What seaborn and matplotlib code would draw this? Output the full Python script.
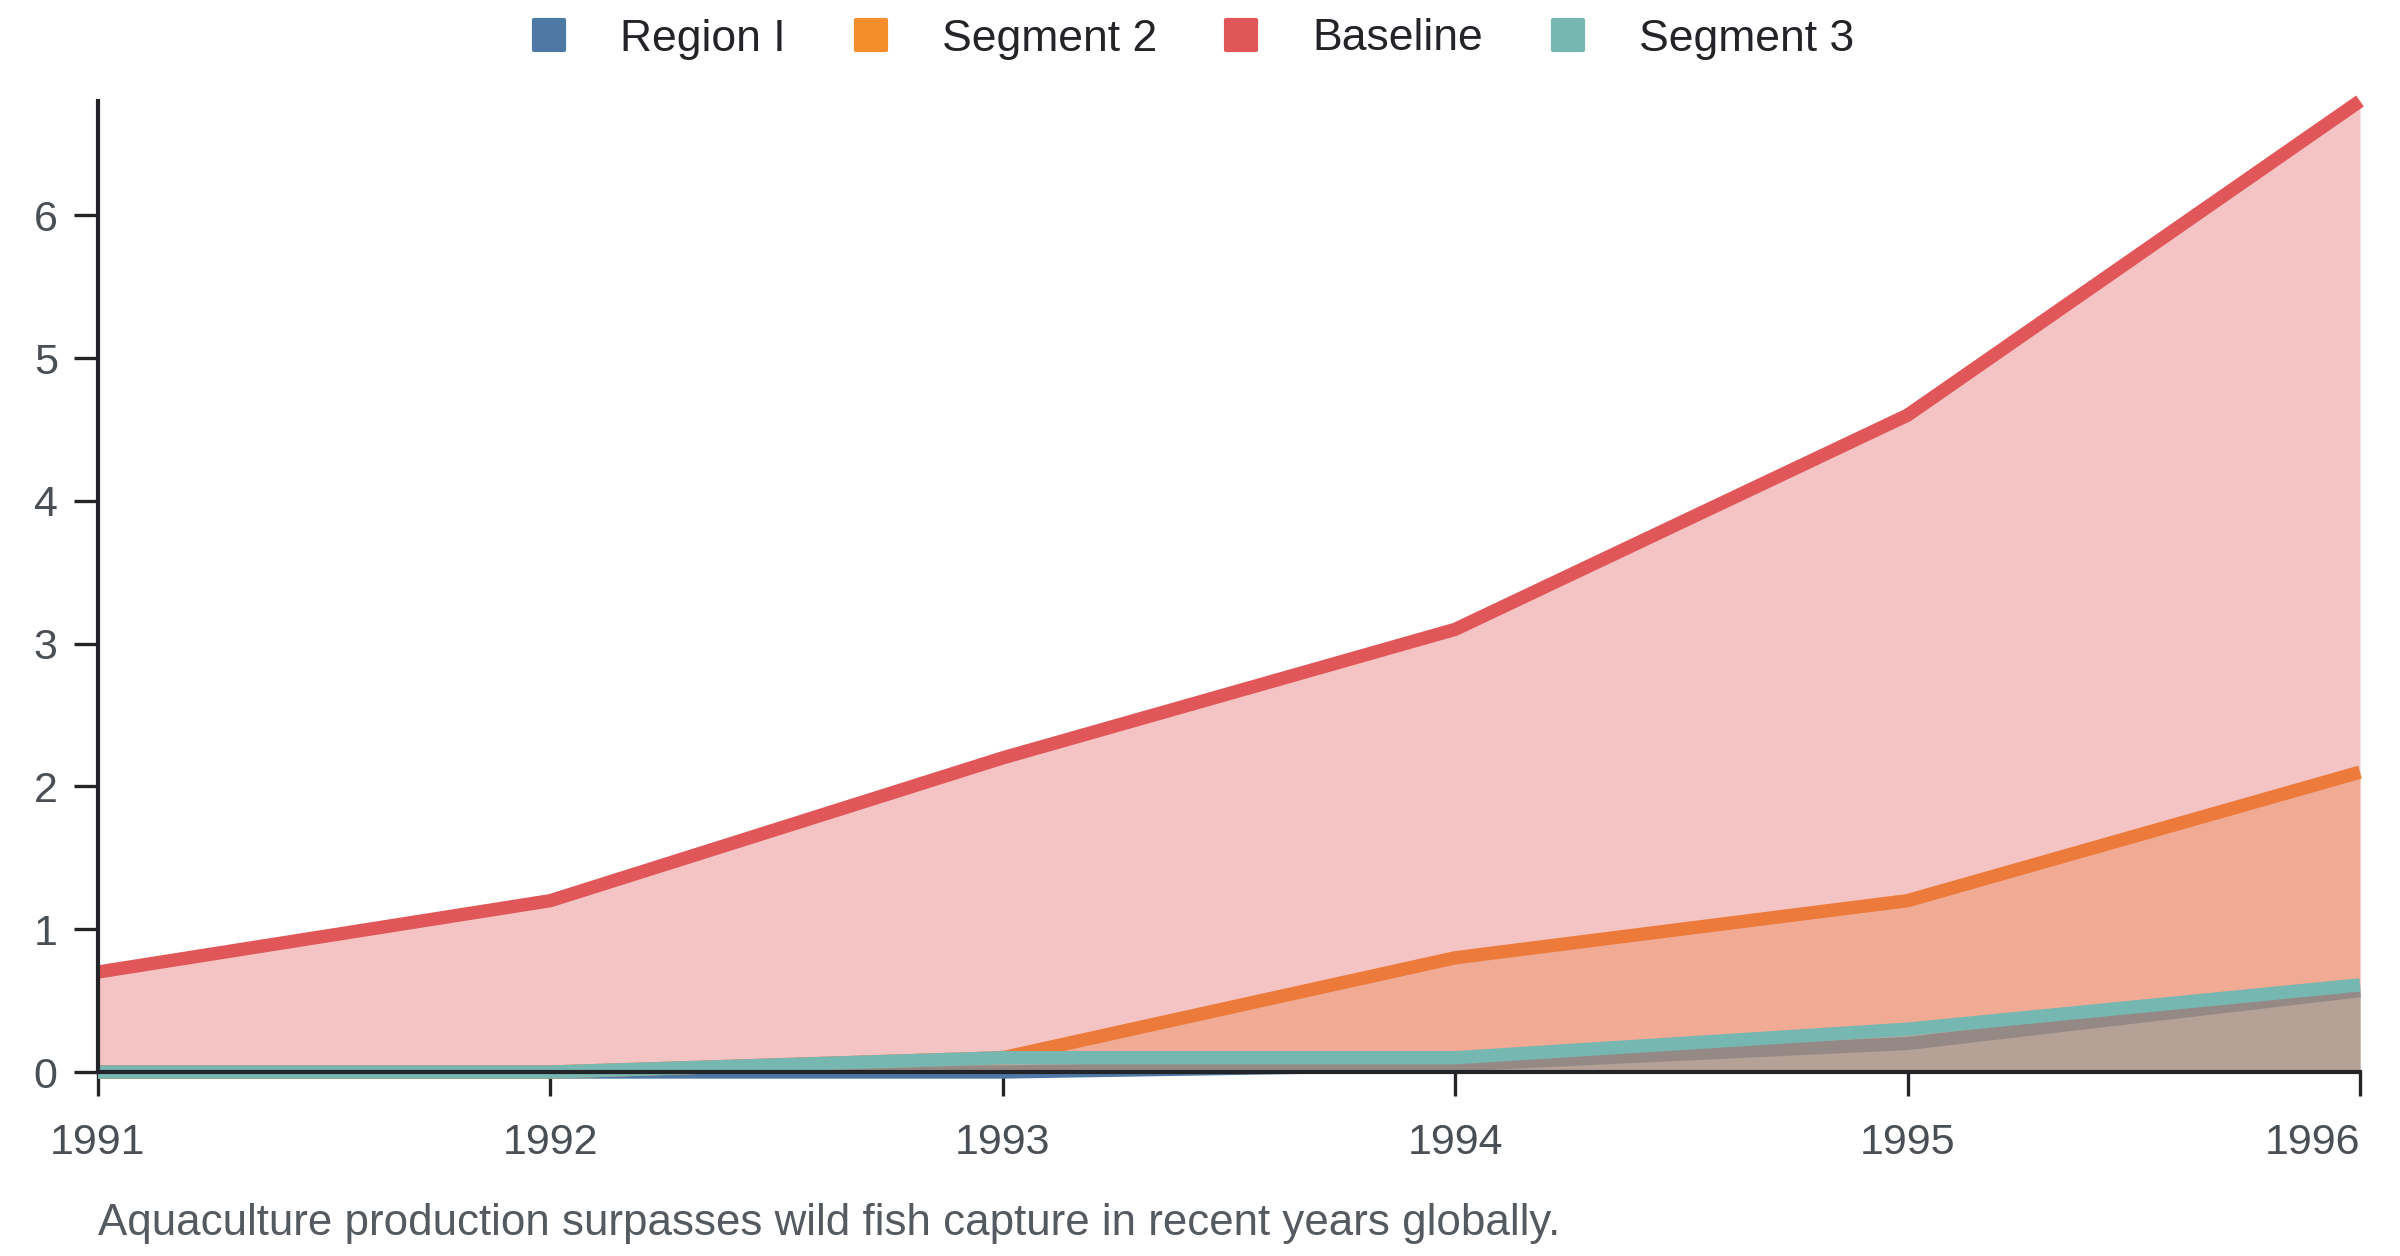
import pandas as pd
import matplotlib
matplotlib.use("Agg")
import matplotlib.pyplot as plt
import seaborn as sns
from matplotlib.lines import Line2D
from matplotlib.markers import MarkerStyle

# Chart data
years = [1991, 1992, 1993, 1994, 1995, 1996]
region_1 = [0.0, 0.0, 0.0, 0.05, 0.2, 0.57]
segment_2 = [0.0, 0.0, 0.1, 0.8, 1.2, 2.1]
baseline = [0.7, 1.2, 2.2, 3.1, 4.6, 6.8]
segment_3 = [0.0, 0.0, 0.1, 0.1, 0.3, 0.61]

series_names = ["Region I", "Segment 2", "Baseline", "Segment 3"]
series_values = [region_1, segment_2, baseline, segment_3]
colors = ["#4e79a7", "#f28e2b", "#e15759", "#76b7b2"]
caption = "Aquaculture production surpasses wild fish capture in recent years globally."

df = pd.DataFrame({"year": years})
for name, vals in zip(series_names, series_values):
    df[name] = vals

sns.set_theme(style="ticks")
plt.rcParams["font.family"] = ["Liberation Sans", "DejaVu Sans"]

fig = plt.figure(figsize=(12, 6.28), dpi=200)
ax = fig.add_axes([98 / 2400, 1 - 1072 / 1256, (2360 - 98) / 2400, (1072 - 101) / 1256])

# Overlapping (unstacked) areas; each series' fill covers the earlier lines
for i, (name, color) in enumerate(zip(series_names, colors)):
    ax.fill_between(df["year"], 0, df[name], color=color, alpha=0.35,
                    linewidth=0, zorder=2 * i + 1)
    sns.lineplot(data=df, x="year", y=name, ax=ax, color=color, linewidth=4.8,
                 solid_capstyle="butt", clip_on=False, zorder=2 * i + 2)

ax.set_xlim(years[0], years[-1])
ax.set_ylim(0, max(baseline))
ax.set_xticks(years)
ax.set_yticks(range(0, 7))
ax.set_xlabel("")
ax.set_ylabel("")

for side in ["top", "right"]:
    ax.spines[side].set_visible(False)
for side in ["left", "bottom"]:
    ax.spines[side].set_linewidth(1.5)
    ax.spines[side].set_color("#222428")
    ax.spines[side].set_zorder(20)
ax.tick_params(axis="both", length=8.5, width=1.2, color="#222428",
               labelsize=15.5, labelcolor="#4a4f55")
ax.tick_params(axis="x", pad=10)
ax.tick_params(axis="y", pad=6)
# keep the last year label inside the figure
fig.canvas.draw()
ax.get_xticklabels()[-1].set_horizontalalignment("right")

handles = [Line2D([], [], linestyle="none",
                  marker=MarkerStyle("s", joinstyle="round"),
                  markersize=11, markerfacecolor=c, markeredgecolor=c,
                  markeredgewidth=1.5)
           for c in colors]
fig.legend(handles, series_names, loc="center", bbox_to_anchor=(0.497, 1 - 39 / 1256),
           ncol=4, frameon=False, fontsize=16, handlelength=0.8,
           handletextpad=1.2, columnspacing=1.5, labelcolor="#222428")

fig.text(98 / 2400, 1 - 1223 / 1256, caption, fontsize=15.8, color="#555a60",
         ha="left", va="center")

fig.savefig("out.png", dpi=200)
